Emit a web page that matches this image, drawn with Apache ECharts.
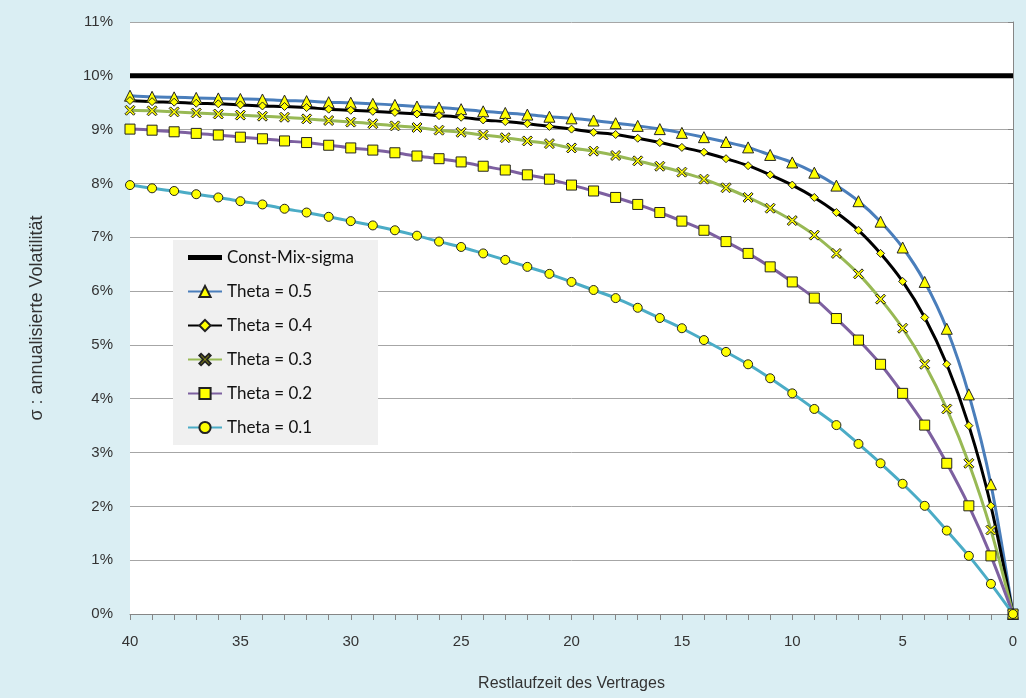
<!DOCTYPE html>
<html>
<head>
<meta charset="utf-8">
<script src="https://cdn.jsdelivr.net/npm/echarts@6/dist/echarts.min.js"></script>
<style>
html,body{margin:0;padding:0;background:#DAEEF3;}
#c{width:1026px;height:698px;}
</style>
</head>
<body>
<div id="c"></div>
<script>
var years = [40,39,38,37,36,35,34,33,32,31,30,29,28,27,26,25,24,23,22,21,20,19,18,17,16,15,14,13,12,11,10,9,8,7,6,5,4,3,2,1,0];
var constX = [40, 0];
var constMix = [10, 10];
var theta05 = [9.63,9.61,9.60,9.59,9.58,9.57,9.56,9.54,9.53,9.51,9.50,9.48,9.46,9.43,9.41,9.38,9.34,9.31,9.28,9.24,9.21,9.17,9.12,9.07,9.01,8.94,8.86,8.77,8.67,8.53,8.39,8.20,7.96,7.67,7.29,6.81,6.17,5.30,4.08,2.41,0];
var theta04 = [9.54,9.52,9.51,9.49,9.48,9.46,9.44,9.43,9.41,9.38,9.36,9.34,9.32,9.29,9.26,9.23,9.18,9.15,9.11,9.06,9.01,8.95,8.91,8.84,8.76,8.67,8.58,8.46,8.33,8.16,7.97,7.74,7.46,7.13,6.70,6.18,5.51,4.64,3.50,2.01,0];
var theta03 = [9.36,9.35,9.33,9.31,9.29,9.27,9.25,9.23,9.20,9.17,9.14,9.11,9.07,9.04,8.99,8.95,8.90,8.85,8.79,8.74,8.66,8.60,8.52,8.42,8.32,8.21,8.08,7.92,7.74,7.54,7.31,7.04,6.70,6.32,5.85,5.31,4.64,3.81,2.80,1.56,0];
var theta02 = [9.01,8.99,8.96,8.93,8.90,8.86,8.83,8.79,8.76,8.71,8.66,8.62,8.57,8.51,8.46,8.40,8.32,8.25,8.16,8.08,7.97,7.86,7.74,7.61,7.46,7.30,7.13,6.92,6.70,6.45,6.17,5.87,5.49,5.09,4.64,4.10,3.51,2.80,2.01,1.08,0];
var theta01 = [7.97,7.91,7.86,7.80,7.74,7.67,7.61,7.53,7.46,7.38,7.30,7.22,7.13,7.03,6.92,6.82,6.70,6.58,6.45,6.32,6.17,6.02,5.87,5.69,5.50,5.31,5.09,4.87,4.64,4.38,4.10,3.81,3.51,3.16,2.80,2.42,2.01,1.55,1.08,0.56,0];
var names = ['Const-Mix-sigma','Theta = 0.5','Theta = 0.4','Theta = 0.3','Theta = 0.2','Theta = 0.1'];

function pairs(xs, ys){ return xs.map(function(x,i){return [x, ys[i]];}); }

var xPath = 'path://M0,1.5L1.5,0L5,3.5L8.5,0L10,1.5L6.5,5L10,8.5L8.5,10L5,6.5L1.5,10L0,8.5L3.5,5Z';
var font = 'Liberation Sans';

function thetaSeries(name, vals, color, symbol, size){
  return {
    name: name, type: 'line', data: pairs(years, vals), smooth: 0.3,
    symbol: symbol, symbolSize: size, showSymbol: true,
    lineStyle: {color: color, width: 3},
    itemStyle: {color: '#FFFF00', borderColor: '#222', borderWidth: 1},
    emphasis: {disabled: true}, z: 3
  };
}

var legendData = names.map(function(n, i){
  return i === 0 ? {name: n, icon: 'path://M0,0L34,0L34,5L0,5Z', itemStyle: {color: '#000', borderWidth: 0}} : {name: n};
});

var chart = echarts.init(document.getElementById('c'));
chart.setOption({
  backgroundColor: '#DAEEF3',
  animation: false,
  grid: {left: 130, right: 13, top: 22, bottom: 84, show: true, backgroundColor: '#FFFFFF', borderWidth: 0},
  legend: {
    orient: 'vertical', left: 173, top: 240,
    data: legendData,
    backgroundColor: '#F0F0F0',
    padding: [9, 24, 9, 14],
    itemGap: 17, itemWidth: 34, itemHeight: 14,
    textStyle: {fontFamily: 'Lato', fontSize: 17, color: '#111'}
  },
  xAxis: {
    type: 'value', inverse: true, min: 0, max: 40, interval: 1,
    name: 'Restlaufzeit des Vertrages', nameLocation: 'middle', nameGap: 62,
    nameTextStyle: {fontFamily: font, fontSize: 16, color: '#333'},
    axisLine: {lineStyle: {color: '#868686', width: 1}},
    axisTick: {show: true, length: 6, lineStyle: {color: '#868686'}},
    axisLabel: {margin: 20, fontFamily: font, fontSize: 15, color: '#333',
      formatter: function(v){ return v % 5 === 0 ? String(v) : ''; }},
    splitLine: {show: false}
  },
  yAxis: {
    type: 'value', min: 0, max: 11, interval: 1,
    name: 'σ : annualisierte Volatilität', nameLocation: 'middle', nameGap: 84,
    nameTextStyle: {fontFamily: font, fontSize: 18, color: '#333'},
    axisLine: {show: true, lineStyle: {color: '#868686', width: 1}},
    axisTick: {show: true, length: 5, lineStyle: {color: '#868686'}},
    axisLabel: {margin: 17, fontFamily: font, fontSize: 15, color: '#333', formatter: '{value}%'},
    splitLine: {lineStyle: {color: '#A6A6A6', width: 1}}
  },
  series: [
    {name: names[0], type: 'line', data: pairs(constX, constMix), symbol: 'none',
     lineStyle: {color: '#000', width: 5}, itemStyle: {color: '#000'}, z: 2},
    thetaSeries(names[1], theta05, '#4A7EBB', 'triangle', 11),
    thetaSeries(names[2], theta04, '#000000', 'diamond', 8),
    thetaSeries(names[3], theta03, '#98B954', xPath, 10),
    thetaSeries(names[4], theta02, '#7D60A0', 'rect', 10),
    thetaSeries(names[5], theta01, '#4BACC6', 'circle', 9)
  ]
});
</script>
</body>
</html>
